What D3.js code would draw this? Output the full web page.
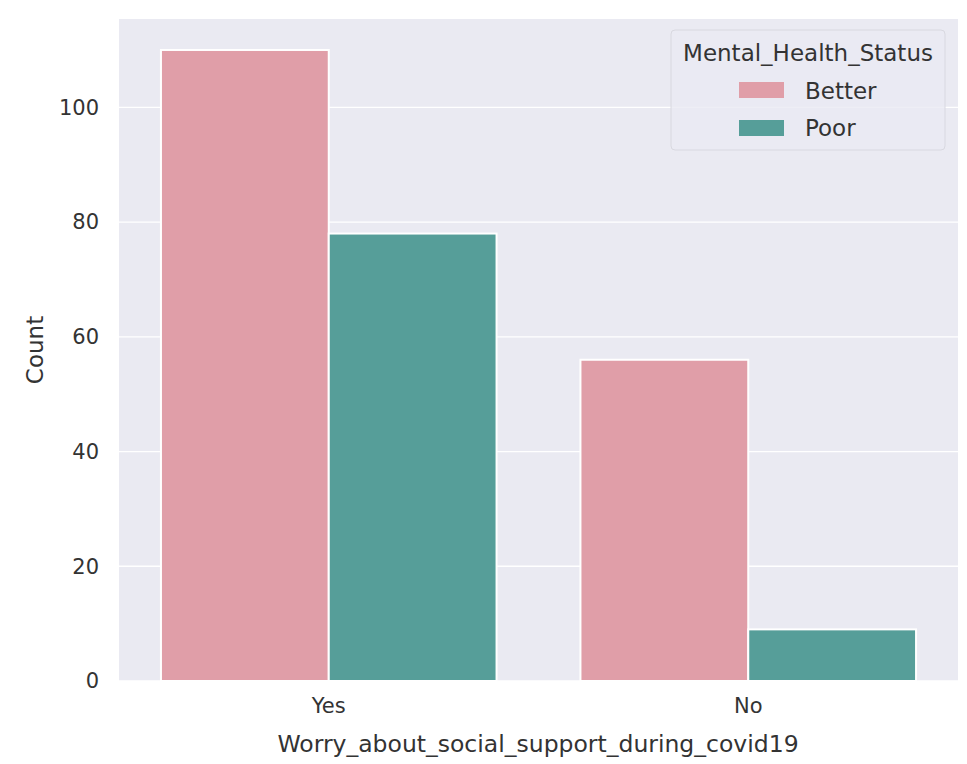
<!DOCTYPE html>
<html><head><meta charset="utf-8">
<script src="https://cdn.jsdelivr.net/npm/d3@7"></script>
<style>body{margin:0;background:#fff}text{font-family:"DejaVu Sans",sans-serif;fill:#333}</style>
</head><body>
<svg id="c" width="967" height="764"></svg>
<script>
const categories = ["Yes", "No"];
const groups = ["Better", "Poor"];
const betterValues = [110, 56];
const poorValues = [78, 9];
const yTicks = [0, 20, 40, 60, 80, 100];
const colors = {Better: "#e09ea8", Poor: "#569e99"};

const svg = d3.select("#c");
const m = {l: 119, r: 958, t: 19, b: 681};
const x = d3.scaleBand().domain(categories).range([m.l, m.r]).paddingInner(0).paddingOuter(0);
const xs = d3.scaleBand().domain(groups).range([0, x.bandwidth()]).paddingInner(0).paddingOuter(0.25);
const y = d3.scaleLinear().domain([0, 115.4]).range([m.b, m.t]);

svg.append("rect").attr("x", m.l).attr("y", m.t).attr("width", m.r - m.l).attr("height", m.b - m.t).attr("fill", "#eaeaf2");
svg.append("g").selectAll("line").data(yTicks).join("line")
  .attr("x1", m.l).attr("x2", m.r).attr("y1", d => y(d)).attr("y2", d => y(d))
  .attr("stroke", "#fff").attr("stroke-width", 1.3);

const data = [];
categories.forEach((c, i) => {
  data.push({c, g: "Better", v: betterValues[i]});
  data.push({c, g: "Poor", v: poorValues[i]});
});
svg.append("g").selectAll("rect").data(data).join("rect")
  .attr("x", d => x(d.c) + xs(d.g)).attr("width", xs.bandwidth())
  .attr("y", d => y(d.v)).attr("height", d => y(0) - y(d.v))
  .attr("fill", d => colors[d.g]).attr("stroke", "#fff").attr("stroke-width", 2);

const yAxis = d3.axisLeft(y).tickValues(yTicks).tickSize(0).tickPadding(20);
const gy = svg.append("g").attr("transform", `translate(${m.l},0)`).call(yAxis);
gy.select(".domain").remove();
gy.selectAll("text").attr("font-size", 21).style("fill", "#333");

const xAxis = d3.axisBottom(x).tickSize(0).tickPadding(17);
const gx = svg.append("g").attr("transform", `translate(0,${m.b})`).call(xAxis);
gx.select(".domain").remove();
gx.selectAll("text").attr("font-size", 21).style("fill", "#333");

svg.append("text").attr("x", 538).attr("y", 752).attr("text-anchor", "middle")
  .attr("font-size", 23.5).text("Worry_about_social_support_during_covid19");
svg.append("text").attr("transform", `translate(43,${(m.t + m.b) / 2}) rotate(-90)`)
  .attr("text-anchor", "middle").attr("font-size", 23).text("Count");

const lg = svg.append("g");
lg.append("rect").attr("x", 671).attr("y", 30).attr("width", 274).attr("height", 120).attr("rx", 4)
  .attr("fill", "#eaeaf2").attr("fill-opacity", 0.8).attr("stroke", "#d8d8e0");
lg.append("text").attr("x", 808).attr("y", 61).attr("text-anchor", "middle").attr("font-size", 23).text("Mental_Health_Status");
groups.forEach((g, i) => {
  lg.append("rect").attr("x", 739).attr("y", 82 + i * 38).attr("width", 45).attr("height", 16).attr("fill", colors[g]);
  lg.append("text").attr("x", 805).attr("y", 99 + i * 37).attr("font-size", 23).text(g);
});
</script>
</body></html>
